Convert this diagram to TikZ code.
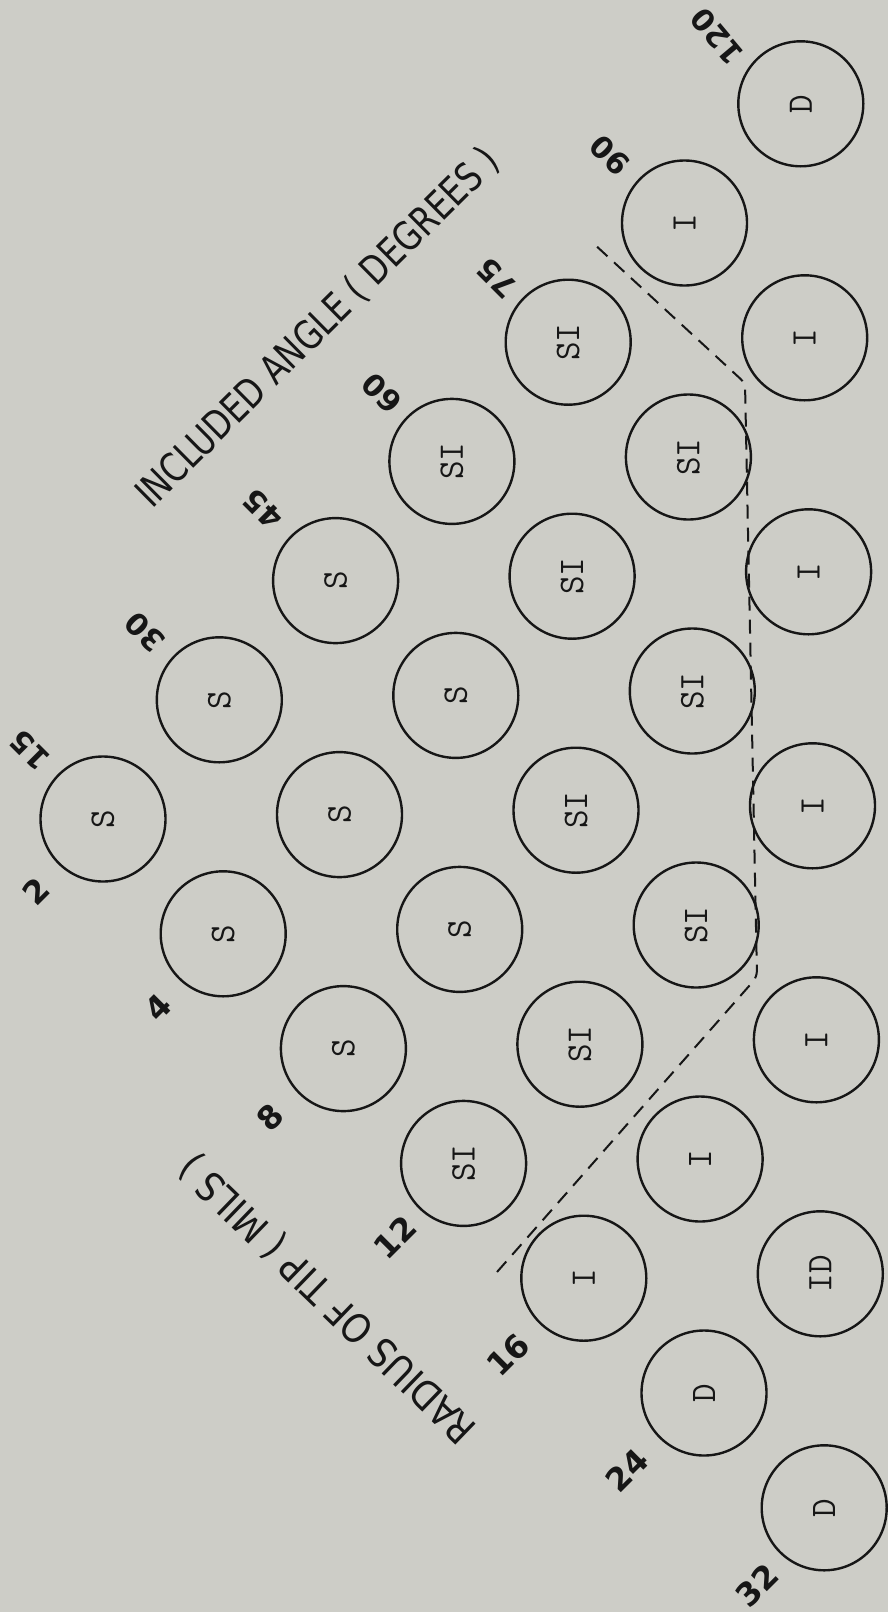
\documentclass[tikz,border=0pt]{standalone}
\usepackage{fontspec}
\usepackage{graphicx}
\newfontfamily\lettering{DejaVu Sans}
\definecolor{paper}{RGB}{205,205,199}
\definecolor{ink}{RGB}{22,22,22}
\begin{document}
\begin{tikzpicture}[x=1pt,y=-1pt,
  cell/.style={circle, draw=ink, line width=2.4pt, minimum size=125pt, inner sep=0pt,
    font=\ttfamily\fontsize{36}{36}\selectfont, text=ink, rotate=90},
  anglenum/.style={font=\lettering\bfseries\fontsize{30}{30}\selectfont, text=ink, rotate=135, inner sep=0pt},
  radnum/.style={font=\lettering\bfseries\fontsize{32}{32}\selectfont, text=ink, rotate=45, inner sep=0pt},
  axistitle/.style={font=\lettering\fontsize{40}{40}\selectfont, text=ink, inner sep=0pt},
  boundary/.style={draw=ink, line width=2pt, dash pattern=on 14pt off 9pt, rounded corners=6pt}
]
\fill[paper] (0,0) rectangle (888,1612);
\useasboundingbox (0,0) rectangle (888,1612);

% grid of circles: a = angle index, r = radius index
\foreach \a/\r/\t in {0/0/S,0/1/S,0/2/S,0/3/SI,0/4/I,0/5/D,0/6/D,
                      1/0/S,1/1/S,1/2/S,1/3/SI,1/4/I,1/5/ID,
                      2/0/S,2/1/S,2/2/SI,2/3/SI,2/4/I,
                      3/0/SI,3/1/SI,3/2/SI,3/3/I,
                      4/0/SI,4/1/SI,4/2/I,
                      5/0/I,5/1/I,
                      6/0/D}
  \node[cell] (c\a\r) at ({103+116.3*\a+120.2*\r},{819-119.2*\a+114.8*\r}) {\t};

% angle labels
\node[anglenum] (n15) at (30,750) {15};
\node[anglenum] (n30) at (145,632) {30};
\node[anglenum] (n45) at (263,509) {45};
\node[anglenum] (n60) at (382,393) {60};
\node[anglenum] (n75) at (497,278) {75};
\node[anglenum] (n90) at (610,155) {90};
\node[anglenum, rotate=-5] (n120) at (717,37) {120};

% radius labels
\node[radnum] (m2) at (36,891) {2};
\node[radnum] (m4) at (158,1007) {4};
\node[radnum] (m8) at (270,1117) {8};
\node[radnum] (m12) at (395,1237) {12};
\node[radnum] (m16) at (508,1355) {16};
\node[radnum] (m24) at (627,1470) {24};
\node[radnum] (m32) at (757,1585) {32};

% axis titles
\node[axistitle, rotate=44.7] (tangle) at (318,328) {\scalebox{0.8}[1]{INCLUDED ANGLE ( DEGREES )}};
\node[axistitle, rotate=136] (tradius) at (328,1298) {\scalebox{0.87}[1]{RADIUS OF TIP ( MILS )}};

% dashed boundary
\coordinate (d1) at (497,1272);
\coordinate (d2) at (757,977);
\coordinate (d3) at (745,383);
\coordinate (d4) at (593,243);
\draw[boundary] (d1) -- (d2) -- (d3) -- (d4);
\end{tikzpicture}
\end{document}
